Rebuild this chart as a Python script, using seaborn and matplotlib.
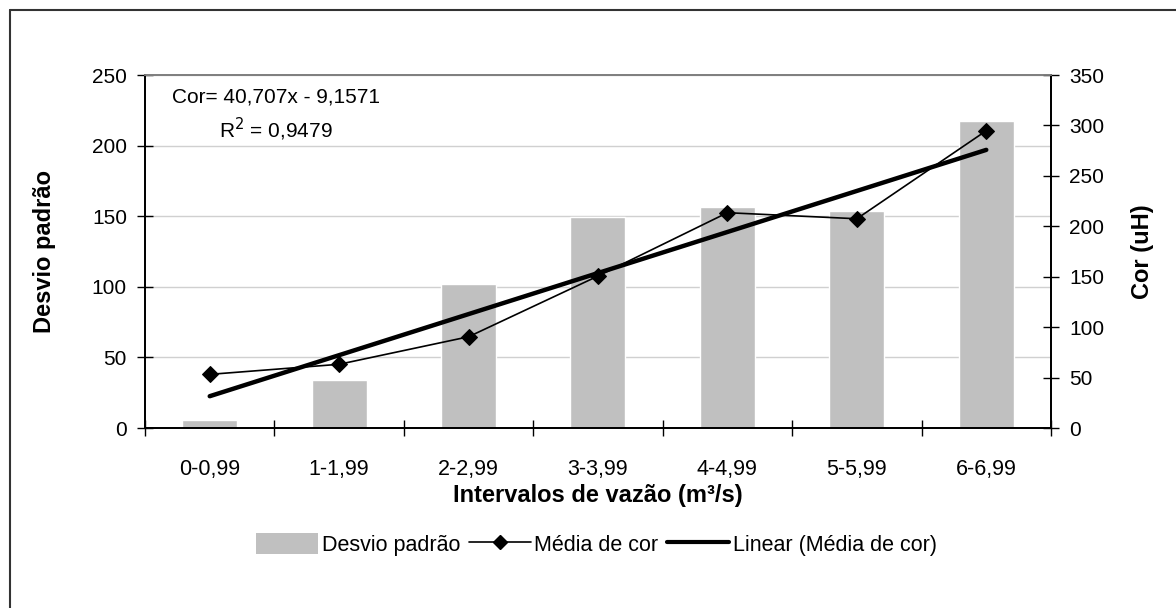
import numpy as np
import matplotlib
matplotlib.use('Agg')
import matplotlib.pyplot as plt
from matplotlib.lines import Line2D
from matplotlib.patches import Patch
import seaborn as sns

# Dados
intervalos = ['0-0,99', '1-1,99', '2-2,99', '3-3,99', '4-4,99', '5-5,99', '6-6,99']
desvio_padrao = [5.7, 34, 102, 149.6, 156.5, 153.7, 217.4]
media_cor = [53.2, 63.2, 90.5, 150.7, 213.5, 207.5, 294.8]

# Equação da tendência linear exibida no gráfico
coef_a = 40.707
coef_b = -9.1571
r2 = 0.9479

sns.set_theme(style='white')
plt.rcParams['font.family'] = ['Liberation Sans', 'DejaVu Sans']
plt.rcParams['text.color'] = 'black'
plt.rcParams['axes.labelcolor'] = 'black'
plt.rcParams['xtick.color'] = 'black'
plt.rcParams['ytick.color'] = 'black'

fig = plt.figure(figsize=(11.76, 6.08), dpi=100)
ax = fig.add_axes([0.1233, 0.296, 0.7704, 0.5806])

# Barras: desvio padrão
sns.barplot(x=intervalos, y=desvio_padrao, color='#c0c0c0', saturation=1,
            width=0.425, ax=ax, zorder=2)

ax.set_ylim(0, 250)
ax.set_yticks(np.arange(0, 251, 50))
ax.set_xlim(-0.5, len(intervalos) - 0.5)
ax.yaxis.grid(True, color='#d0d0d0', linewidth=1)
ax.set_axisbelow(True)

# Eixo secundário: média de cor e tendência linear
ax2 = ax.twinx()
pos = np.arange(len(intervalos))
tendencia = coef_a * (pos + 1) + coef_b
sns.lineplot(x=pos, y=tendencia, color='black', linewidth=3.2, ax=ax2)
sns.lineplot(x=pos, y=media_cor, color='black', linewidth=1.2, marker='D',
             markersize=8, markeredgecolor='black', ax=ax2)
ax2.set_ylim(0, 350)
ax2.set_yticks(np.arange(0, 351, 50))

# Eixo x
ax.set_xticks(pos)
ax.set_xticklabels(intervalos, fontsize=15.5)
ax.set_xticks(np.arange(-0.5, len(intervalos), 1), minor=True)
ax.tick_params(axis='x', which='major', length=0, pad=22)
ax.tick_params(axis='x', which='minor', direction='inout', length=12,
               width=1, color='black', bottom=True)
ax.tick_params(axis='y', direction='inout', length=12, width=1,
               color='black', labelsize=15, pad=7, left=True)
ax2.tick_params(axis='y', direction='inout', length=12, width=1,
                color='black', labelsize=15, pad=7, right=True)

# Bordas
for a in (ax, ax2):
    for lado in ['left', 'bottom', 'right']:
        a.spines[lado].set_color('black')
        a.spines[lado].set_linewidth(1.3)
    a.spines['top'].set_color('#808080')
    a.spines['top'].set_linewidth(1.3)

ax.set_xlabel('Intervalos de vazão (m³/s)', fontsize=17, fontweight='bold',
              labelpad=3)
ax.set_ylabel('Desvio padrão', fontsize=17, fontweight='bold', labelpad=26)
ax2.set_ylabel('Cor (uH)', fontsize=17, fontweight='bold', labelpad=19)

# Equação da regressão
ax.text(0.1446, 0.966,
        f'Cor= {coef_a:.3f}x - {abs(coef_b):.4f}'.replace('.', ',') + '\n'
        + f'R$^2$ = {r2:.4f}'.replace('.', ','),
        transform=ax.transAxes, ha='center', va='top', fontsize=15,
        multialignment='center', linespacing=1.45)

# Legenda
handles = [
    Patch(facecolor='#c0c0c0', edgecolor='none', label='Desvio padrão'),
    Line2D([], [], color='black', linewidth=1.2, marker='D', markersize=7,
           label='Média de cor'),
    Line2D([], [], color='black', linewidth=3, label='Linear (Média de cor)'),
]
fig.legend(handles=handles, loc='center', bbox_to_anchor=(0.507, 0.104),
           ncol=3, frameon=False, fontsize=15.5, handlelength=2.9,
           handleheight=1.1, handletextpad=0.15, columnspacing=0.4)

# Moldura do gráfico (apenas esquerda e topo visíveis)
fig.add_artist(Line2D([0.0085, 0.0085], [0, 0.983], transform=fig.transFigure,
                      color='#333333', linewidth=1.5))
fig.add_artist(Line2D([0.0085, 1], [0.983, 0.983], transform=fig.transFigure,
                      color='#333333', linewidth=1.5))

fig.savefig('out.png', dpi=100)
